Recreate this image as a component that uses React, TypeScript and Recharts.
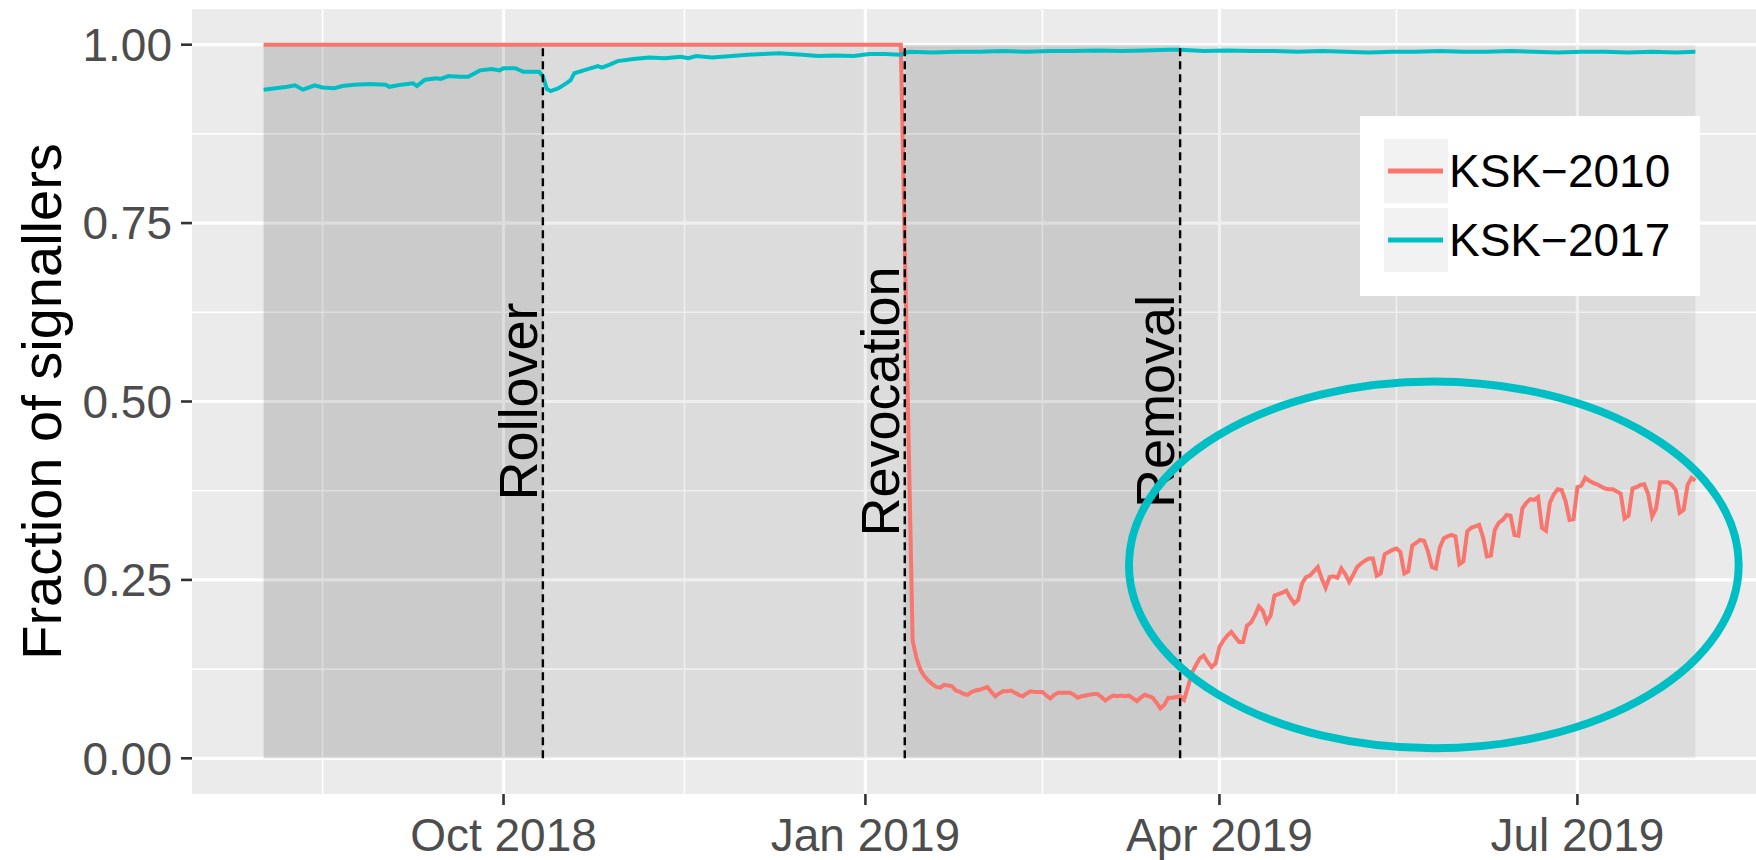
import React from 'react';
import { LineChart, Line, XAxis, YAxis, ReferenceArea, ReferenceLine, Legend } from 'recharts';

const FONT = '"Liberation Sans", Arial, Helvetica, sans-serif';
const RED = '#F8766D';
const CYAN = '#00BFC4';
const DAY = 86400000;

// KSK-2010: flat at 1.0 until the revocation, then daily readings from Jan 10 2019
const ksk2010PlateauDates = ['2018-08-01'];
const ksk2010PlateauValues = [1.0];
const ksk2010DailyFrom = '2019-01-10';
const ksk2010Daily = [
  // Jan 10-31
  1.0, 0.72, 0.44, 0.165, 0.14, 0.124, 0.115, 0.109, 0.104, 0.1, 0.099, 0.103, 0.102, 0.101, 0.095, 0.093,
  0.09, 0.089, 0.093, 0.095, 0.096, 0.098,
  // Feb
  0.1, 0.093, 0.087, 0.091, 0.094, 0.094, 0.095, 0.092, 0.089, 0.087, 0.091, 0.094, 0.093, 0.093, 0.093,
  0.088, 0.084, 0.089, 0.092, 0.092, 0.092, 0.092, 0.089, 0.085, 0.087, 0.088, 0.089, 0.09,
  // Mar
  0.09, 0.086, 0.081, 0.085, 0.088, 0.087, 0.088, 0.087, 0.088, 0.084, 0.08, 0.085, 0.089, 0.087, 0.085,
  0.078, 0.07, 0.075, 0.085, 0.085, 0.086, 0.087, 0.082, 0.1, 0.12, 0.13, 0.14, 0.144, 0.135, 0.128, 0.133,
  // Apr
  0.156, 0.165, 0.172, 0.177, 0.17, 0.163, 0.163, 0.186, 0.19, 0.2, 0.213, 0.207, 0.191, 0.2, 0.228,
  0.23, 0.232, 0.235, 0.225, 0.217, 0.222, 0.245, 0.254, 0.256, 0.262, 0.268, 0.252, 0.239, 0.254, 0.255,
  // May
  0.253, 0.266, 0.258, 0.247, 0.257, 0.268, 0.273, 0.277, 0.28, 0.28, 0.256, 0.259, 0.286, 0.289, 0.292,
  0.294, 0.289, 0.259, 0.262, 0.298, 0.302, 0.306, 0.305, 0.29, 0.268, 0.266, 0.295, 0.308, 0.311, 0.313, 0.311,
  // Jun
  0.272, 0.276, 0.318, 0.323, 0.325, 0.327, 0.31, 0.283, 0.284, 0.32, 0.33, 0.334, 0.341, 0.34, 0.313,
  0.312, 0.35, 0.358, 0.363, 0.362, 0.366, 0.323, 0.319, 0.358, 0.37, 0.377, 0.376, 0.36, 0.334, 0.335,
  // Jul
  0.38, 0.382, 0.393, 0.389, 0.386, 0.384, 0.381, 0.378, 0.377, 0.377, 0.374, 0.371, 0.336, 0.34, 0.378,
  0.38, 0.383, 0.384, 0.37, 0.339, 0.35, 0.387, 0.387, 0.387, 0.383, 0.376, 0.344, 0.348, 0.383, 0.393, 0.389,
];

const ksk2017Dates = [
  '2018-08-01', '2018-08-04', '2018-08-07', '2018-08-09', '2018-08-11', '2018-08-14', '2018-08-16',
  '2018-08-19', '2018-08-21', '2018-08-24', '2018-08-28', '2018-09-01', '2018-09-02', '2018-09-05',
  '2018-09-08', '2018-09-09', '2018-09-11', '2018-09-14', '2018-09-15', '2018-09-17', '2018-09-20',
  '2018-09-22', '2018-09-25', '2018-09-28', '2018-09-30', '2018-10-01', '2018-10-04', '2018-10-06',
  '2018-10-10', '2018-10-11', '2018-10-12', '2018-10-13', '2018-10-15', '2018-10-17', '2018-10-18',
  '2018-10-19', '2018-10-22', '2018-10-25', '2018-10-26', '2018-10-28', '2018-10-30', '2018-11-03',
  '2018-11-07', '2018-11-11', '2018-11-15', '2018-11-17', '2018-11-19', '2018-11-23', '2018-11-28',
  '2018-12-02', '2018-12-06', '2018-12-10', '2018-12-16', '2018-12-20', '2018-12-24', '2018-12-29',
  '2019-01-02', '2019-01-06', '2019-01-10', '2019-01-12', '2019-01-18', '2019-01-24', '2019-01-30',
  '2019-02-05', '2019-02-11', '2019-02-17', '2019-02-23', '2019-03-01', '2019-03-07', '2019-03-13',
  '2019-03-19', '2019-03-22', '2019-03-28', '2019-04-03', '2019-04-09', '2019-04-15', '2019-04-21',
  '2019-04-27', '2019-05-03', '2019-05-09', '2019-05-15', '2019-05-21', '2019-05-27', '2019-06-02',
  '2019-06-08', '2019-06-14', '2019-06-20', '2019-06-26', '2019-07-02', '2019-07-08', '2019-07-14',
  '2019-07-20', '2019-07-26', '2019-07-31',
];
const ksk2017Values = [
  0.937, 0.939, 0.941, 0.943, 0.937, 0.943, 0.94,
  0.939, 0.942, 0.944, 0.945, 0.944, 0.941, 0.944,
  0.946, 0.942, 0.951, 0.953, 0.952, 0.956, 0.955,
  0.955, 0.964, 0.966, 0.964, 0.967, 0.967, 0.962,
  0.962, 0.956, 0.938, 0.935, 0.939, 0.946, 0.95,
  0.96, 0.965, 0.97, 0.968, 0.972, 0.977, 0.98,
  0.982, 0.981, 0.983, 0.981, 0.984, 0.982, 0.984,
  0.986, 0.987, 0.988, 0.986, 0.984, 0.985, 0.984,
  0.987, 0.987, 0.986, 0.99, 0.989, 0.99, 0.99,
  0.991, 0.99, 0.991, 0.991, 0.992, 0.991, 0.992,
  0.993, 0.993, 0.991, 0.992, 0.991, 0.991, 0.99,
  0.991, 0.99, 0.989, 0.99, 0.99, 0.991, 0.99,
  0.99, 0.991, 0.99, 0.989, 0.99, 0.99, 0.989,
  0.99, 0.989, 0.99,
];

const seriesNames = ['KSK\u22122010', 'KSK\u22122017'];

const eventDates = ['2018-10-11', '2019-01-11', '2019-03-22'];
const eventNames = ['Rollover', 'Revocation', 'Removal'];

const xTickDates = ['2018-10-01', '2019-01-01', '2019-04-01', '2019-07-01'];
const xTickLabels = ['Oct 2018', 'Jan 2019', 'Apr 2019', 'Jul 2019'];
const xMinorDates = ['2018-08-16', '2018-11-16', '2019-02-15', '2019-05-16', '2019-08-16'];
const yTicks = [0, 0.25, 0.5, 0.75, 1];
const yMinor = [0.125, 0.375, 0.625, 0.875];
const yDomain = [-0.05, 1.05];

// the hand-drawn circle around the recovery
const highlightDates = ['2019-03-09', '2019-08-11'];
const highlightRange = [0.014, 0.528];

const toMs = (s: string) => Date.parse(s + 'T00:00:00Z');

const ksk2010Data = [
  ...ksk2010PlateauDates.map((d, i) => ({ t: toMs(d), v: ksk2010PlateauValues[i] })),
  ...ksk2010Daily.map((v, i) => ({ t: toMs(ksk2010DailyFrom) + i * DAY, v })),
];
const ksk2017Data = ksk2017Dates.map((d, i) => ({ t: toMs(d), v: ksk2017Values[i] }));

const dataStart = toMs('2018-08-01');
const dataEnd = toMs('2019-07-31');
const pad = (dataEnd - dataStart) * 0.05;
const xDomain = [dataStart - pad, dataEnd + pad];

const phaseEdges = [dataStart, ...eventDates.map(toMs), dataEnd];
const phaseOpacity = [0.132, 0.064, 0.132, 0.064];

const tickLabel = (t: number) => {
  const i = xTickDates.findIndex((d) => toMs(d) === t);
  return i >= 0 ? xTickLabels[i] : '';
};

const renderEventLabel = (p: any) => {
  const vb = p.viewBox || {};
  const x = vb.x - 6;
  const y = vb.y + vb.height / 2;
  return (
    <text x={x} y={y} transform={`rotate(-90 ${x} ${y})`} textAnchor="middle"
      fontSize={54} fontFamily={FONT} fill="#000">
      {p.value}
    </text>
  );
};

const renderYTitle = (p: any) => {
  const vb = p.viewBox || {};
  const x = vb.x + 61;
  const y = vb.y + vb.height / 2;
  return (
    <text x={x} y={y} transform={`rotate(-90 ${x} ${y})`} textAnchor="middle"
      fontSize={56} fontFamily={FONT} fill="#000">
      Fraction of signallers
    </text>
  );
};

const renderEllipse = (p: any) => (
  <ellipse cx={p.x + p.width / 2} cy={p.y + p.height / 2} rx={p.width / 2} ry={p.height / 2}
    fill="none" stroke={CYAN} strokeWidth={8} />
);

function LegendBox({ payload }: any) {
  return (
    <div style={{
      width: 340, height: 180, background: '#fff', boxSizing: 'border-box',
      paddingTop: 23, paddingLeft: 24, fontFamily: FONT,
    }}>
      {(payload || []).map((entry: any, i: number) => (
        <div key={entry.value}
          style={{ display: 'flex', alignItems: 'center', height: 64, marginTop: i ? 5 : 0 }}>
          <svg width={64} height={64} style={{ display: 'block' }}>
            <rect width={64} height={64} fill="#F2F2F2" />
            <line x1={4} x2={59} y1={32} y2={32} stroke={entry.color} strokeWidth={5} />
          </svg>
          <span style={{ fontSize: 46, color: '#000', marginLeft: 1, lineHeight: '64px' }}>
            {entry.value}
          </span>
        </div>
      ))}
    </div>
  );
}

const tickStyle = { fill: '#4D4D4D', fontSize: 46, fontFamily: FONT };
const tickLineStyle = { stroke: '#333333', strokeWidth: 2.6 };

export default function App() {
  return (
    <div style={{
      position: 'absolute', left: 0, top: 0, width: 1756, height: 860,
      overflow: 'hidden', background: '#fff',
    }}>
      <LineChart width={1767} height={860} margin={{ top: 9, right: 0, bottom: 0, left: 0 }}>
        <XAxis type="number" dataKey="t" domain={xDomain} allowDataOverflow
          ticks={xTickDates.map(toMs)} tickFormatter={tickLabel} interval={0}
          height={66} tickSize={11} tickMargin={13} axisLine={false}
          tick={tickStyle} tickLine={tickLineStyle} />
        <YAxis type="number" domain={yDomain} allowDataOverflow ticks={yTicks}
          tickFormatter={(v: number) => v.toFixed(2)} interval={0}
          width={192} tickSize={11} tickMargin={9} axisLine={false}
          tick={tickStyle} tickLine={tickLineStyle}
          label={{ value: 'Fraction of signallers', content: renderYTitle }} />

        {/* panel background */}
        <ReferenceArea x1={xDomain[0]} x2={xDomain[1]} y1={yDomain[0]} y2={yDomain[1]}
          zIndex={-300} fill="#EBEBEB" fillOpacity={1} stroke="none" ifOverflow="visible" />

        {/* ggplot-style grid */}
        {yMinor.map((v) => (
          <ReferenceLine key={`ym${v}`} y={v} stroke="#fff" strokeWidth={1.6} zIndex={-250} />
        ))}
        {xMinorDates.map((d) => (
          <ReferenceLine key={`xm${d}`} x={toMs(d)} stroke="#fff" strokeWidth={1.6} zIndex={-250} />
        ))}
        {yTicks.map((v) => (
          <ReferenceLine key={`yM${v}`} y={v} stroke="#fff" strokeWidth={3.2} zIndex={-240} />
        ))}
        {xTickDates.map((d) => (
          <ReferenceLine key={`xM${d}`} x={toMs(d)} stroke="#fff" strokeWidth={3.2} zIndex={-240} />
        ))}

        {/* phases between events */}
        {phaseOpacity.map((o, i) => (
          <ReferenceArea key={`ph${i}`} x1={phaseEdges[i]} x2={phaseEdges[i + 1]} y1={0} y2={1}
            fill="#000" fillOpacity={o} stroke="none" zIndex={-200} ifOverflow="visible" />
        ))}

        <Line data={ksk2010Data} dataKey="v" name={seriesNames[0]} type="linear" stroke={RED}
          strokeWidth={4} dot={false} activeDot={false} isAnimationActive={false} />
        <Line data={ksk2017Data} dataKey="v" name={seriesNames[1]} type="linear" stroke={CYAN}
          strokeWidth={4} dot={false} activeDot={false} isAnimationActive={false} />

        {eventDates.map((d, i) => (
          <ReferenceLine key={d} segment={[{ x: toMs(d), y: 0 }, { x: toMs(d), y: 1 }]}
            stroke="#000" strokeWidth={2.4} strokeDasharray="8 5" zIndex={450}
            label={{ value: eventNames[i], content: renderEventLabel }} />
        ))}

        <ReferenceArea x1={toMs(highlightDates[0])} x2={toMs(highlightDates[1])}
          y1={highlightRange[0]} y2={highlightRange[1]} shape={renderEllipse}
          zIndex={1500} ifOverflow="visible" />

        <Legend layout="vertical" align="center" verticalAlign="middle" content={LegendBox}
          wrapperStyle={{ left: 1360, top: 116, width: 340, height: 180 }} />
      </LineChart>
    </div>
  );
}
